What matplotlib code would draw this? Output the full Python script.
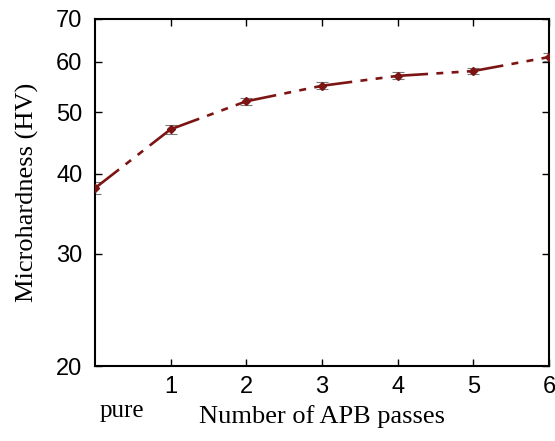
import numpy as np
import matplotlib.pyplot as plt
from matplotlib.ticker import FixedLocator, NullLocator

# Microhardness vs number of APB passes
passes = [0, 1, 2, 3, 4, 5, 6]
hardness = [38.0, 47.0, 52.0, 55.0, 57.0, 58.0, 61.0]
hv_err = [0.8, 0.8, 0.7, 0.7, 0.7, 0.7, 0.8]
x_ticks = [1, 2, 3, 4, 5, 6]
y_ticks = [20, 30, 40, 50, 60, 70]

plt.rcParams['lines.scale_dashes'] = False
red = '#7d1414'

fig = plt.figure(figsize=(5.55, 4.41), dpi=100)
ax = fig.add_axes([0.171, 0.170, 0.818, 0.787])

ax.errorbar(passes, hardness, yerr=hv_err, fmt='none', ecolor='#777777',
            elinewidth=0.8, capsize=4, capthick=0.8, zorder=2)

# dash pattern restarts at each data point
dash = [22, 6, 5, 6, 5, 6]
for i in range(len(passes) - 1):
    ax.plot(passes[i:i + 2], hardness[i:i + 2], color=red, lw=1.9,
            dashes=dash, zorder=3)
ax.plot(passes, hardness, 'D', color=red, ms=4, zorder=4)

ax.set_yscale('log')
ax.set_ylim(20, 70)
ax.set_xlim(0, 6)
ax.yaxis.set_major_locator(FixedLocator(y_ticks))
ax.yaxis.set_minor_locator(NullLocator())
ax.set_yticklabels([str(v) for v in y_ticks])
ax.set_xticks(x_ticks)
ax.set_xticklabels([str(v) for v in x_ticks])

ax.tick_params(direction='in', length=5, width=1, top=True, right=True,
               labelsize=17, pad=9)
ax.tick_params(axis='x', pad=7)
for lab in ax.get_xticklabels() + ax.get_yticklabels():
    lab.set_fontfamily('Liberation Sans')
for s in ax.spines.values():
    s.set_linewidth(1.5)

ax.text(0.06, -0.13, 'pure', transform=ax.transAxes, ha='center', va='center',
        fontsize=18, family='Liberation Serif')
ax.set_xlabel('Number of APB passes', fontsize=19, family='Liberation Serif',
              labelpad=5)
ax.set_ylabel('Microhardness (HV)', fontsize=19, family='Liberation Serif',
              labelpad=12)

fig.savefig('out.png', dpi=100)
